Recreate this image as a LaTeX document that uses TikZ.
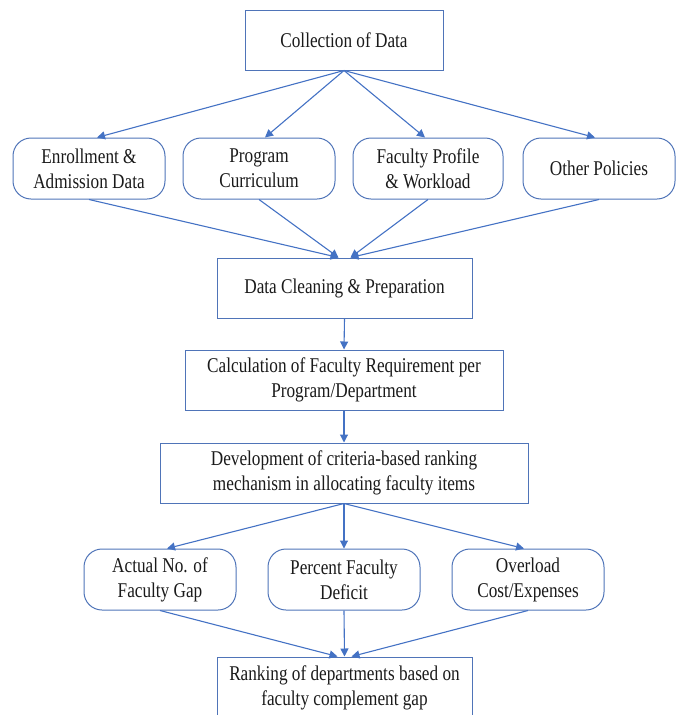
\documentclass[tikz,border=0pt]{standalone}
\usepackage{fontspec}
\setmainfont[FakeStretch=0.82]{Liberation Serif}
\usetikzlibrary{arrows.meta,calc}
\definecolor{lineblue}{HTML}{4472C4}
\definecolor{boxblue}{HTML}{4F74B8}
\definecolor{txt}{HTML}{1A1A1A}
\begin{document}
\begin{tikzpicture}[x=1pt,y=-1pt,
  every node/.style={font=\fontsize{21}{25}\selectfont, text=txt, align=center, inner sep=0pt},
  sqbox/.style={draw=boxblue, line width=1pt, rectangle},
  rbox/.style={draw=boxblue, line width=1pt, rectangle, rounded corners=18pt},
  conn/.style={draw=lineblue, line width=1.1pt, -{Triangle[length=8pt,width=8pt]}}]
\useasboundingbox (0,0) rectangle (680,715);
\node[sqbox, minimum width=198pt, minimum height=60pt] (col) at (344,40) {Collection of Data};
\node[rbox, minimum width=152pt, minimum height=61pt] (enr) at (89,168.5) {Enrollment \&\\Admission Data};
\node[rbox, minimum width=152pt, minimum height=61pt] (prog) at (259,168.5) {Program\\Curriculum};
\node[rbox, minimum width=150pt, minimum height=61pt] (fac) at (428,168.5) {Faculty Profile\\\& Workload};
\node[rbox, minimum width=152pt, minimum height=61pt] (oth) at (599,168.5) {Other Policies};
\node[sqbox, minimum width=255pt, minimum height=60pt] (clean) at (344.5,288) {Data Cleaning \& Preparation};
\node[sqbox, minimum width=318pt, minimum height=60pt] (calc) at (344,380) {Calculation of Faculty Requirement per\\Program/Department};
\node[sqbox, minimum width=368pt, minimum height=60pt] (dev) at (344,473) {Development of criteria-based ranking\\mechanism in allocating faculty items};
\node[rbox, minimum width=152pt, minimum height=61pt] (act) at (160,579.5) {Actual No. of\\Faculty Gap};
\node[rbox, minimum width=152pt, minimum height=61pt] (pct) at (344,579.5) {Percent Faculty\\Deficit};
\node[rbox, minimum width=152pt, minimum height=61pt] (ovl) at (528,579.5) {Overload\\Cost/Expenses};
\node[sqbox, minimum width=255pt, minimum height=62pt] (rank) at (344.5,688) {Ranking of departments based on\\faculty complement gap};
% top fan-out
\draw[conn] (col.south) -- ($(enr.north)+(8,0)$);
\draw[conn] (col.south) -- ($(prog.north)+(6,0)$);
\draw[conn] (col.south) -- ($(fac.north)+(-3,0)$);
\draw[conn] (col.south) -- ($(oth.north)+(-4,0)$);
% fan-in to cleaning
\draw[conn] (enr.south) -- ($(clean.north)+(-6,0)$);
\draw[conn] (prog.south) -- ($(clean.north)+(-6,0)$);
\draw[conn] (fac.south) -- ($(clean.north)+(6,0)$);
\draw[conn] (oth.south) -- ($(clean.north)+(6,0)$);
% chain
\draw[conn] (clean.south) -- (calc.north);
\draw[conn] (calc.south) -- (dev.north);
% second fan-out
\draw[conn] (dev.south) -- ($(act.north)+(7,0)$);
\draw[conn] (dev.south) -- (pct.north);
\draw[conn] (dev.south) -- ($(ovl.north)+(-4,0)$);
% fan-in to ranking
\draw[conn] (act.south) -- ($(rank.north)+(-7,0)$);
\draw[conn] (pct.south) -- ($(rank.north)+(0,0)$);
\draw[conn] (ovl.south) -- ($(rank.north)+(7,0)$);
\end{tikzpicture}
\end{document}
